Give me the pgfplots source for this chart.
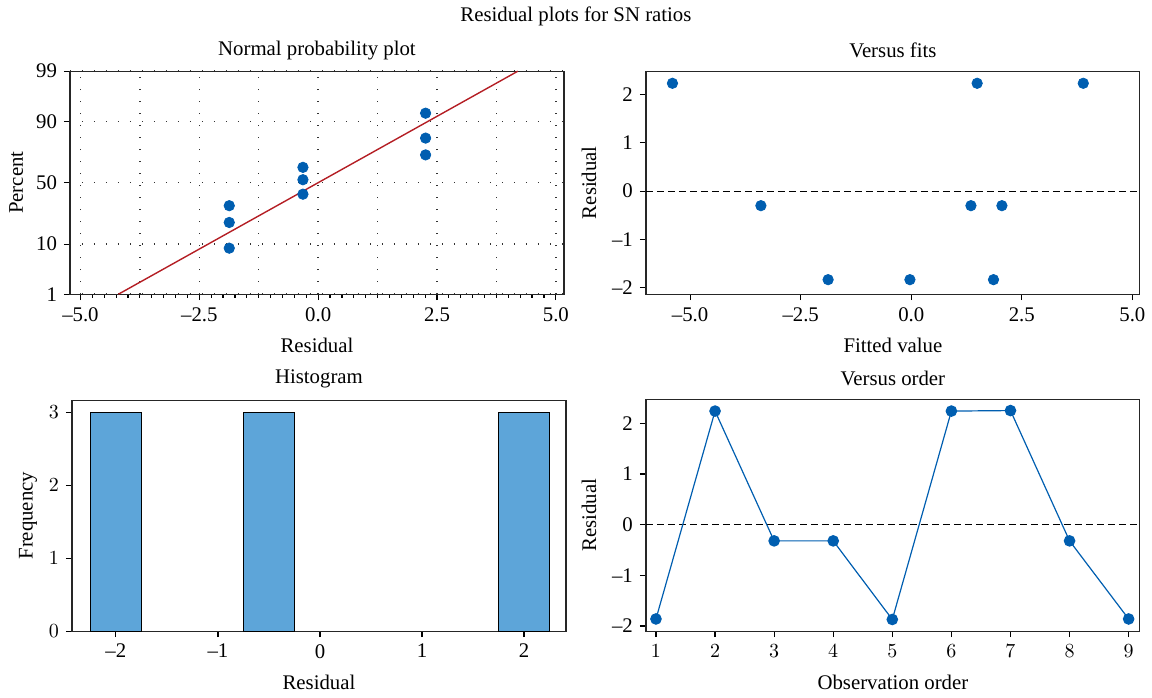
\documentclass[border=0pt]{standalone}
\usepackage{fontspec}
\setmainfont{Liberation Serif}
\usepackage{pgfplots}
\pgfplotsset{compat=1.18}
\definecolor{ptblue}{RGB}{0,94,176}
\definecolor{barblue}{RGB}{93,165,217}
\definecolor{fitred}{RGB}{180,30,36}

\pgfplotsset{
  every axis title shift=0pt,
  resid/.style={
    scale only axis, width=247pt,
    axis line style={line width=0.6pt, black!85},
    tick align=outside, xtick pos=bottom, ytick pos=left,
    major tick length=3pt,
    tick style={black, line width=0.6pt},
    font=\fontsize{10.4}{12}\selectfont,
    title style={at={(axis description cs:0.5,1)}, anchor=center, yshift=10.5pt},
    xlabel style={at={(axis description cs:0.5,0)}, anchor=center, yshift=-25.5pt},
    clip=false,
  },
  pts/.style={only marks, mark=*, mark size=2.6pt, ptblue},
  zero/.style={black, line width=0.6pt, dash pattern=on 3.5pt off 2pt},
}

\begin{document}
\begin{tikzpicture}
\path (0,0) rectangle (576pt,-348.5pt);
\node[font=\fontsize{10.4}{12}\selectfont] at (288pt,-8pt) {Residual plots for SN ratios};

% normal probability plot (y in normal quantile units)
\begin{axis}[resid, at={(35pt,-35.5pt)}, anchor=north west, height=111.5pt,
  title={Normal probability plot}, xlabel={Residual}, ylabel={Percent},
  ylabel style={at={(axis description cs:-0.109,0.5)}, anchor=center},
  xmin=-5.22, xmax=5.17, ymin=-2.326, ymax=2.326,
  xtick={-5,-2.5,0,2.5,5}, xticklabels={–5.0,–2.5,0.0,2.5,5.0},
  ytick={-2.326,-1.2816,0,1.2816,2.326}, yticklabels={1,10,50,90,99},
  minor x tick num=9, minor tick length=1.8pt,
  extra x ticks={-3.75,-1.25,1.25,3.75}, extra x tick labels={},
  extra x tick style={major tick length=0pt},
  grid=major,
  major grid style={black!80, line width=0.7pt, dash pattern=on 0.7pt off 5.3pt},
]
\addplot[fitred, line width=0.7pt] coordinates {(-4.2,-2.326) (4.2,2.326)};
\addplot[pts] coordinates {
  (-1.87,-1.366) (-1.87,-0.83) (-1.87,-0.48)
  (-0.32,-0.24) (-0.32,0.062) (-0.32,0.32)
  (2.26,0.58) (2.26,0.93) (2.26,1.45)};
\end{axis}

% versus fits
\begin{axis}[resid, at={(323pt,-35.5pt)}, anchor=north west, height=111.5pt,
  title={Versus fits}, xlabel={Fitted value}, ylabel={Residual},
  ylabel style={at={(axis description cs:-0.115,0.5)}, anchor=center},
  xmin=-6.0, xmax=5.17, ymin=-2.13, ymax=2.48,
  xtick={-5,-2.5,0,2.5,5}, xticklabels={–5.0,–2.5,0.0,2.5,5.0},
  ytick={-2,-1,0,1,2}, yticklabels={–2,–1,0,1,2},
]
\addplot[zero] coordinates {(-6.0,0) (5.17,0)};
\addplot[pts] coordinates {
  (-5.40,2.23) (-3.40,-0.30) (-1.88,-1.83) (-0.03,-1.83) (1.35,-0.30)
  (1.49,2.23) (1.86,-1.83) (2.05,-0.30) (3.89,2.23)};
\end{axis}

% histogram
\begin{axis}[resid, at={(36pt,-200pt)}, anchor=north west, height=115.5pt,
  title={Histogram}, xlabel={Residual}, ylabel={Frequency},
  ylabel style={at={(axis description cs:-0.089,0.5)}, anchor=center},
  xmin=-2.43, xmax=2.41, ymin=0, ymax=3.17,
  xtick={-2,-1,0,1,2}, xticklabels={–2,–1,0,1,2},
  ytick={0,1,2,3},
]
\addplot[ybar interval, fill=barblue, draw=black, line width=0.6pt] coordinates {(-2.25,3) (-1.75,3)};
\addplot[ybar interval, fill=barblue, draw=black, line width=0.6pt] coordinates {(-0.75,3) (-0.25,3)};
\addplot[ybar interval, fill=barblue, draw=black, line width=0.6pt] coordinates {(1.75,3) (2.25,3)};
\end{axis}

% versus order
\begin{axis}[resid, at={(323pt,-199.5pt)}, anchor=north west, height=116pt,
  title={Versus order}, xlabel={Observation order}, ylabel={Residual},
  ylabel style={at={(axis description cs:-0.115,0.5)}, anchor=center},
  xmin=0.83, xmax=9.19, ymin=-2.1, ymax=2.475,
  xtick={1,...,9},
  ytick={-2,-1,0,1,2}, yticklabels={–2,–1,0,1,2},
]
\addplot[zero] coordinates {(0.83,0) (9.19,0)};
\addplot[ptblue, line width=0.6pt, mark=*, mark size=2.6pt] coordinates {
  (1,-1.86) (2,2.24) (3,-0.32) (4,-0.32) (5,-1.87)
  (6,2.24) (7,2.25) (8,-0.32) (9,-1.86)};
\end{axis}
\end{tikzpicture}
\end{document}
